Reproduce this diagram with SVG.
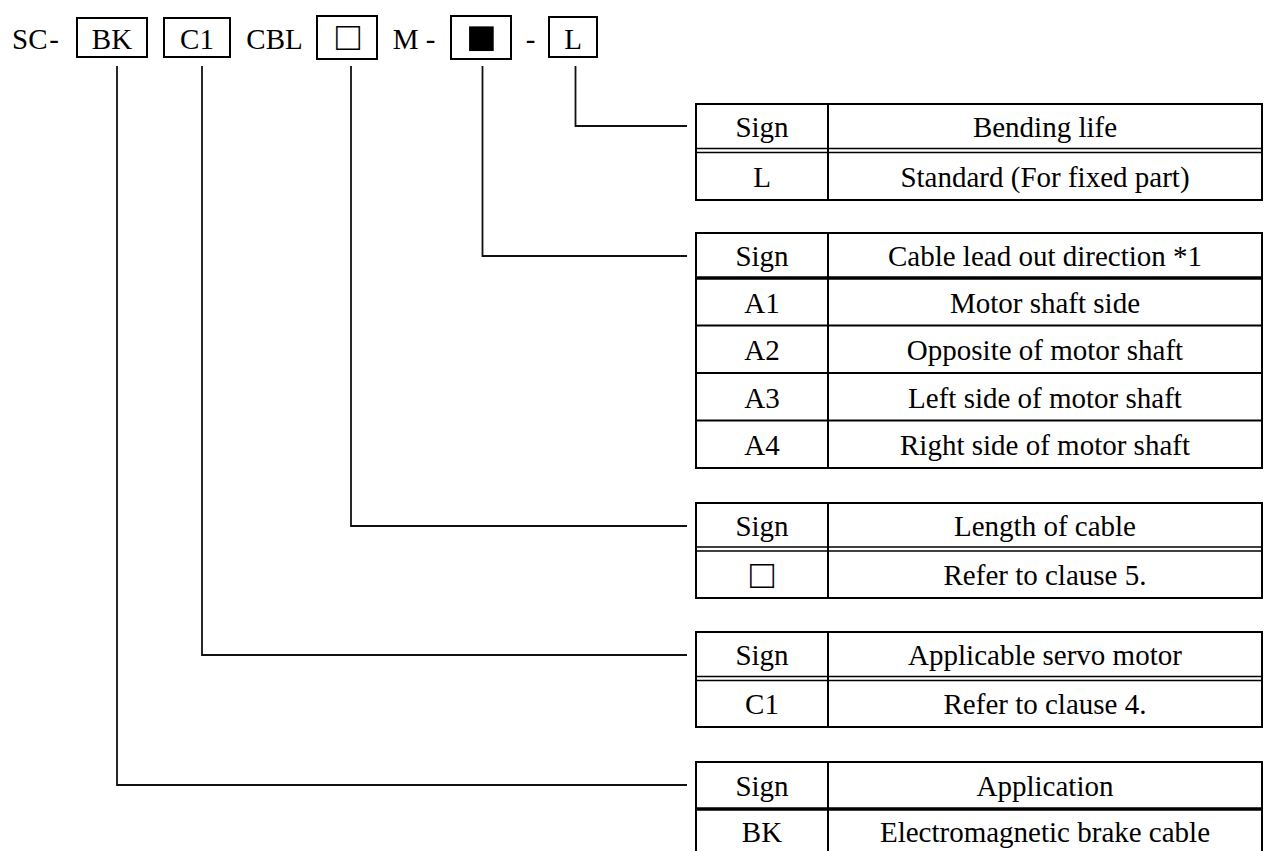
<svg xmlns="http://www.w3.org/2000/svg" width="1267" height="851" viewBox="0 0 1267 851">
<style>
text{font-family:"Liberation Serif","Times New Roman",serif;font-size:29px;fill:#000}
.m{text-anchor:middle}
.box{fill:none;stroke:#000;stroke-width:2}
.tb{fill:none;stroke:#000;stroke-width:2}
.ln{fill:none;stroke:#000;stroke-width:1.3}
.thick{fill:none;stroke:#000;stroke-width:3.4}
.con{fill:none;stroke:#111;stroke-width:1.8}
.sq{font-size:40px}
.bsq{font-size:51px}
</style>
<rect width="1267" height="851" fill="#fff"/>

<g id="code">
<text x="12" y="49">SC</text>
<text class="m" x="54" y="49">-</text>
<rect class="box" x="77" y="18" width="70" height="39"/>
<text class="m" x="112" y="49">BK</text>
<rect class="box" x="164" y="18" width="66" height="39"/>
<text class="m" x="197" y="49">C1</text>
<text class="m" x="274.5" y="49">CBL</text>
<rect class="box" x="317" y="16" width="60" height="43"/>
<text class="m sq" x="348" y="50" fill="#333">□</text>
<text class="m" x="414" y="49">M -</text>
<rect class="box" x="451" y="16" width="60" height="43"/>
<text class="m bsq" x="481.5" y="54">■</text>
<text class="m" x="530.5" y="49">-</text>
<rect class="box" x="549" y="17" width="48" height="40"/>
<text class="m" x="573" y="49">L</text>
</g>

<g id="connectors">
<path class="con" d="M575.5,66 V126 H687"/>
<path class="con" d="M482.5,66 V256 H687"/>
<path class="con" d="M351,66 V526 H687"/>
<path class="con" d="M202,66 V655 H687"/>
<path class="con" d="M117,66 V785 H687"/>
</g>

<g id="table-bending-life">
<rect class="tb" x="696" y="104" width="566" height="96"/>
<line class="tb" x1="828" y1="104" x2="828" y2="200"/>
<line class="ln" x1="696" y1="148.5" x2="1262" y2="148.5"/>
<line class="ln" x1="696" y1="152.5" x2="1262" y2="152.5"/>
<text class="m" x="762" y="137">Sign</text>
<text class="m" x="1045" y="137">Bending life</text>
<text class="m" x="762" y="187">L</text>
<text class="m" x="1045" y="187">Standard (For fixed part)</text>
</g>

<g id="table-lead-out">
<rect class="tb" x="696" y="233" width="566" height="235"/>
<line class="tb" x1="828" y1="233" x2="828" y2="468"/>
<line class="thick" x1="696" y1="278" x2="1262" y2="278"/>
<line class="tb" x1="696" y1="325.5" x2="1262" y2="325.5"/>
<line class="tb" x1="696" y1="373" x2="1262" y2="373"/>
<line class="tb" x1="696" y1="420.5" x2="1262" y2="420.5"/>
<text class="m" x="762" y="266">Sign</text>
<text class="m" x="1045" y="266">Cable lead out direction *1</text>
<text class="m" x="762" y="313">A1</text>
<text class="m" x="1045" y="313">Motor shaft side</text>
<text class="m" x="762" y="360">A2</text>
<text class="m" x="1045" y="360">Opposite of motor shaft</text>
<text class="m" x="762" y="408">A3</text>
<text class="m" x="1045" y="408">Left side of motor shaft</text>
<text class="m" x="762" y="455">A4</text>
<text class="m" x="1045" y="455">Right side of motor shaft</text>
</g>

<g id="table-length">
<rect class="tb" x="696" y="503" width="566" height="95"/>
<line class="tb" x1="828" y1="503" x2="828" y2="598"/>
<line class="ln" x1="696" y1="547" x2="1262" y2="547"/>
<line class="ln" x1="696" y1="551" x2="1262" y2="551"/>
<text class="m" x="762" y="536">Sign</text>
<text class="m" x="1045" y="536">Length of cable</text>
<text class="m sq" x="762" y="588" fill="#333">□</text>
<text class="m" x="1045" y="585">Refer to clause 5.</text>
</g>

<g id="table-motor">
<rect class="tb" x="696" y="632" width="566" height="95"/>
<line class="tb" x1="828" y1="632" x2="828" y2="727"/>
<line class="ln" x1="696" y1="676.5" x2="1262" y2="676.5"/>
<line class="ln" x1="696" y1="680.5" x2="1262" y2="680.5"/>
<text class="m" x="762" y="665">Sign</text>
<text class="m" x="1045" y="665">Applicable servo motor</text>
<text class="m" x="762" y="714">C1</text>
<text class="m" x="1045" y="714">Refer to clause 4.</text>
</g>

<g id="table-application">
<rect class="tb" x="696" y="762" width="566" height="96"/>
<line class="tb" x1="828" y1="762" x2="828" y2="858"/>
<line class="thick" x1="696" y1="809" x2="1262" y2="809"/>
<text class="m" x="762" y="796">Sign</text>
<text class="m" x="1045" y="796">Application</text>
<text class="m" x="762" y="842">BK</text>
<text class="m" x="1045" y="842">Electromagnetic brake cable</text>
</g>
</svg>
